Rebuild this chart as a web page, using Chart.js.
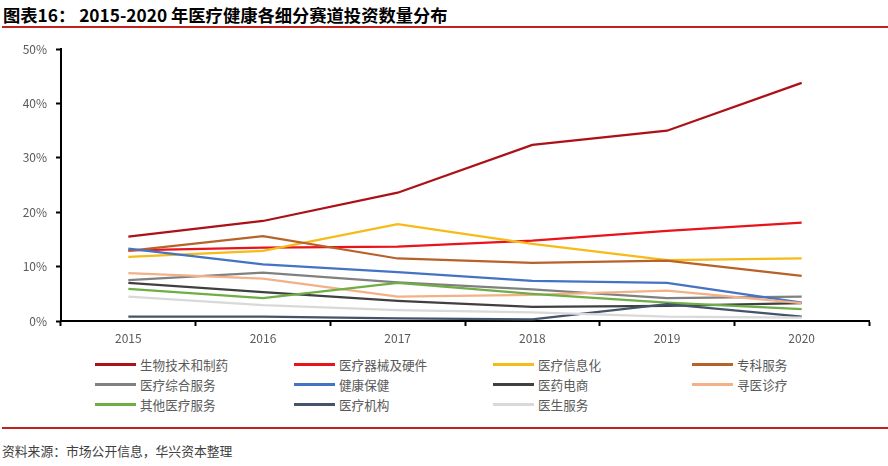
<!DOCTYPE html>
<html>
<head>
<meta charset="utf-8">
<script src="https://cdn.jsdelivr.net/npm/chart.js@4/dist/chart.umd.min.js"></script>
<style>
  body { margin: 0; background: #fff; font-family: "Noto Sans CJK SC", "Noto Sans", sans-serif; }
  #page { position: relative; width: 888px; height: 466px; overflow: hidden; }
  #title { position: absolute; left: 3px; top: 2px; font-size: 17.3px; font-weight: bold; color: #000; white-space: nowrap; }
  .rule { position: absolute; left: 2px; right: 0; height: 2px; background: #c0201e; }
  #chartBox { position: absolute; left: 0; top: 33px; width: 888px; height: 317px; }
  #legend { position: absolute; left: 95px; top: 354px; display: grid; grid-template-columns: repeat(4, 199px); grid-auto-rows: 20px; }
  .item { display: flex; align-items: center; font-size: 12.6px; color: #595959; white-space: nowrap; }
  .swatch { width: 41px; height: 3px; margin-right: 4px; }
  #source { position: absolute; left: 2px; top: 441px; font-size: 12.8px; color: #404040; }
</style>
</head>
<body>
<div id="page">
  <div id="title">图表16： 2015-2020 年医疗健康各细分赛道投资数量分布</div>
  <div class="rule" style="top:26px"></div>
  <div id="chartBox"><canvas id="lineChart"></canvas></div>
  <div id="legend"></div>
  <div class="rule" style="top:427px"></div>
  <div id="source">资料来源：市场公开信息，华兴资本整理</div>
</div>
<script>
const years = ["2015", "2016", "2017", "2018", "2019", "2020"];

// share of deals per segment, %
const bioPharma = [15.5, 18.4, 23.6, 32.4, 35.0, 43.8];
const devices = [13.0, 13.5, 13.7, 14.8, 16.6, 18.1];
const healthIT = [11.8, 12.9, 17.8, 14.2, 11.2, 11.5];
const specialty = [12.9, 15.6, 11.5, 10.7, 11.1, 8.3];
const generalCare = [7.5, 8.9, 7.1, 5.8, 4.2, 4.5];
const wellness = [13.3, 10.4, 9.0, 7.4, 7.0, 3.4];
const pharmaEcom = [7.0, 5.3, 3.7, 2.6, 2.8, 3.3];
const findCare = [8.8, 7.8, 4.5, 4.8, 5.6, 3.3];
const otherServices = [5.9, 4.2, 7.0, 5.0, 3.4, 2.2];
const institutions = [0.8, 0.8, 0.5, 0.3, 3.1, 0.8];
const doctorServices = [4.5, 2.9, 2.0, 1.6, 0.8, 0.6];

const seriesNames = ["生物技术和制药", "医疗器械及硬件", "医疗信息化", "专科服务",
  "医疗综合服务", "健康保健", "医药电商", "寻医诊疗",
  "其他医疗服务", "医疗机构", "医生服务"];
const seriesValues = [bioPharma, devices, healthIT, specialty, generalCare, wellness,
  pharmaEcom, findCare, otherServices, institutions, doctorServices];
const seriesColors = ["#ad1118", "#e8131b", "#f5bb17", "#b8622a", "#808080", "#4472c4",
  "#404040", "#f2b186", "#70ad47", "#44546a", "#d9d9d9"];

const yTicks = [0, 10, 20, 30, 40, 50];

const tickFont = { family: "'Noto Sans CJK SC', 'Noto Sans', sans-serif", size: 12 };

new Chart(document.getElementById("lineChart"), {
  type: "line",
  data: {
    labels: years,
    datasets: seriesNames.map((name, i) => ({
      label: name,
      data: seriesValues[i],
      borderColor: seriesColors[i],
      backgroundColor: seriesColors[i],
      borderWidth: 2.25,
      pointRadius: 0,
      tension: 0,
      order: seriesNames.length - i,
    })),
  },
  options: {
    responsive: true,
    maintainAspectRatio: false,
    animation: false,
    layout: { padding: { top: 10, right: 19, left: 0, bottom: 0 } },
    plugins: { legend: { display: false }, tooltip: { enabled: false } },
    scales: {
      x: {
        offset: true,
        grid: { offset: true, drawOnChartArea: false, tickLength: 5, tickColor: "#000", tickWidth: 2 },
        border: { color: "#000", width: 2 },
        ticks: { color: "#595959", font: tickFont, padding: 5 },
        afterFit: (s) => { s.height = 29; },
      },
      y: {
        min: 0,
        max: 50,
        afterBuildTicks: (s) => { s.ticks = yTicks.map((v) => ({ value: v })); },
        grid: { drawOnChartArea: false, tickLength: 5, tickColor: "#000", tickWidth: 2 },
        border: { color: "#000", width: 2 },
        ticks: { color: "#595959", font: tickFont, padding: 9, callback: (v) => v + "%" },
        afterFit: (s) => { s.width = 61; },
      },
    },
  },
});

const legend = document.getElementById("legend");
seriesNames.forEach((name, i) => {
  const item = document.createElement("div");
  item.className = "item";
  item.innerHTML = `<span class="swatch" style="background:${seriesColors[i]}"></span>${name}`;
  legend.appendChild(item);
});
</script>
</body>
</html>
